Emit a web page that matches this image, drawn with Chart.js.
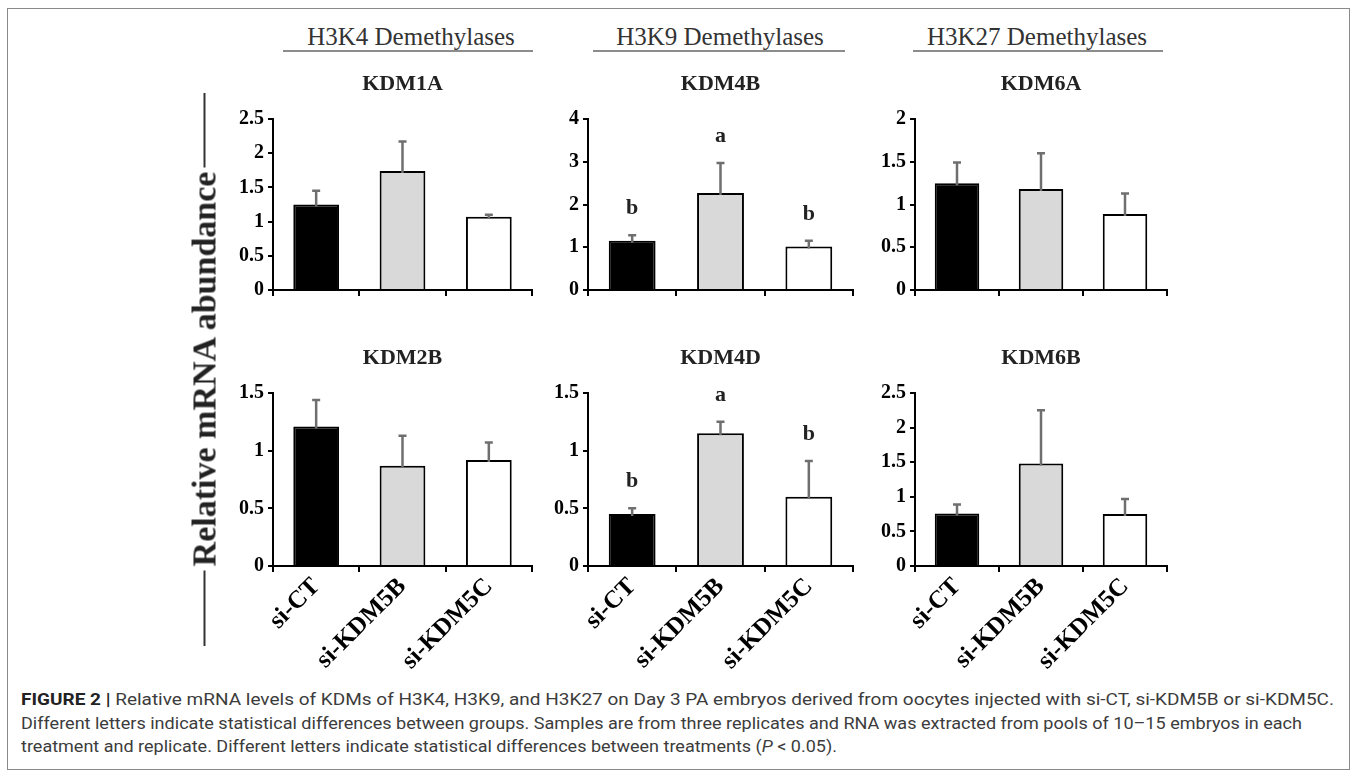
<!DOCTYPE html>
<html><head><meta charset="utf-8">
<script src="https://cdn.jsdelivr.net/npm/chart.js@4.4.1/dist/chart.umd.min.js"></script>
<style>
html,body{margin:0;padding:0;background:#fff;width:1357px;height:777px;overflow:hidden;position:relative;}
#frame{position:absolute;left:7px;top:8px;width:1343px;height:762px;border:1px solid #8a8a8a;box-sizing:border-box;}
.hdr{position:absolute;font-family:"Liberation Serif","Times New Roman",serif;font-size:25px;color:#333;text-align:center;line-height:25px;white-space:nowrap;}
.uline{position:absolute;height:2px;background:#8c8c8c;}
.panel{position:absolute;}
#ytitle{position:absolute;display:flex;align-items:center;width:553px;height:40px;left:-72px;top:348.5px;transform:rotate(-90deg);}
#ytitle .ln{flex:1;height:2px;background:#333;}
#ytitle .tx{padding:0 4px;font-family:"Liberation Serif","Times New Roman",serif;font-weight:bold;font-size:34px;color:#222;white-space:nowrap;line-height:40px;}
.cap{position:absolute;left:21px;font-family:"Liberation Sans Narrow","Roboto","Liberation Sans",sans-serif;font-size:17px;color:#3c3c3c;line-height:23px;white-space:nowrap;transform-origin:0 50%;}
.cap b{color:#222;}
</style></head>
<body>
<div id="frame"></div>
<div id="root"></div>
<div id="ytitle"><span class="ln"></span><span class="tx">Relative mRNA abundance</span><span class="ln"></span></div>
<div class="cap" id="cap1" style="top:688px"><b>FIGURE 2 |</b> Relative mRNA levels of KDMs of H3K4, H3K9, and H3K27 on Day 3 PA embryos derived from oocytes injected with si-CT, si-KDM5B or si-KDM5C.</div>
<div class="cap" id="cap2" style="top:712px">Different letters indicate statistical differences between groups. Samples are from three replicates and RNA was extracted from pools of 10–15 embryos in each</div>
<div class="cap" id="cap3" style="top:735px">treatment and replicate. Different letters indicate statistical differences between treatments (<i>P</i> &lt; 0.05).</div>
<script>
// ---- data ----
const categories = ['si-CT', 'si-KDM5B', 'si-KDM5C'];
const headers = ['H3K4 Demethylases', 'H3K9 Demethylases', 'H3K27 Demethylases'];
const panelTitles = ['KDM1A', 'KDM4B', 'KDM6A', 'KDM2B', 'KDM4D', 'KDM6B'];
const kdm1aMean = [1.25, 1.74, 1.07];
const kdm1aErr  = [0.20, 0.43, 0.03];
const kdm4bMean = [1.15, 2.27, 1.02];
const kdm4bErr  = [0.13, 0.70, 0.13];
const kdm6aMean = [1.25, 1.18, 0.89];
const kdm6aErr  = [0.24, 0.42, 0.24];
const kdm2bMean = [1.21, 0.87, 0.92];
const kdm2bErr  = [0.23, 0.26, 0.15];
const kdm4dMean = [0.45, 1.15, 0.60];
const kdm4dErr  = [0.05, 0.10, 0.31];
const kdm6bMean = [0.76, 1.48, 0.75];
const kdm6bErr  = [0.13, 0.77, 0.22];
const kdm4bLetters = ['b', 'a', 'b'];
const kdm4dLetters = ['b', 'a', 'b'];
const yMaxes = [2.5, 4, 2, 1.5, 1.5, 2.5];
const ySteps = [0.5, 1, 0.5, 0.5, 0.5, 0.5];

// ---- layout (styling, not data) ----
const barColors = ['#000000', '#d9d9d9', '#ffffff'];
const cols = [{L: 273, R: 532}, {L: 588, R: 853}, {L: 915, R: 1167}];
const rows = [{T: 119, B: 294}, {T: 393, B: 566}];
const headerPos = [{cx: 411, x1: 283, x2: 533}, {cx: 720, x1: 593, x2: 845}, {cx: 1037, x1: 913, x2: 1163}];
const captionWidths = [1313, 1281, 816];
const SERIF = '"Liberation Serif","Times New Roman",serif';

const root = document.getElementById('root');
headers.forEach((h, i) => {
  const d = document.createElement('div');
  d.className = 'hdr'; d.textContent = h;
  d.style.left = (headerPos[i].cx - 150) + 'px'; d.style.width = '300px'; d.style.top = '24px';
  root.appendChild(d);
  const u = document.createElement('div');
  u.className = 'uline';
  u.style.left = headerPos[i].x1 + 'px'; u.style.width = (headerPos[i].x2 - headerPos[i].x1) + 'px'; u.style.top = '50px';
  root.appendChild(u);
});

const annotPlugin = {
  id: 'annot',
  afterDatasetsDraw(chart, args, opts) {
    const ctx = chart.ctx, meta = chart.getDatasetMeta(0), ys = chart.scales.y, ca = chart.chartArea;
    ctx.save();
    meta.data.forEach((bar, i) => {
      const top = ys.getPixelForValue(opts.mean[i] + opts.err[i]);
      ctx.strokeStyle = '#6f6f6f'; ctx.lineWidth = 2.5; ctx.lineCap = 'butt';
      ctx.beginPath();
      ctx.moveTo(bar.x, bar.y + 2); ctx.lineTo(bar.x, top);
      ctx.moveTo(bar.x - 4, top); ctx.lineTo(bar.x + 4, top);
      ctx.stroke();
      if (opts.letters) {
        ctx.fillStyle = '#222'; ctx.font = 'bold 22px ' + SERIF;
        ctx.textAlign = 'center'; ctx.textBaseline = 'middle';
        ctx.fillText(opts.letters[i], bar.x, top - 27);
      }
    });
    ctx.fillStyle = '#222'; ctx.font = 'bold 22px ' + SERIF;
    ctx.textAlign = 'center'; ctx.textBaseline = 'middle';
    ctx.fillText(opts.title, (ca.left + ca.right) / 2, ca.top - 35);
    ctx.restore();
  }
};

const means = [kdm1aMean, kdm4bMean, kdm6aMean, kdm2bMean, kdm4dMean, kdm6bMean];
const errs = [kdm1aErr, kdm4bErr, kdm6aErr, kdm2bErr, kdm4dErr, kdm6bErr];
const letters = [null, kdm4bLetters, null, null, kdm4dLetters, null];

for (let p = 0; p < 6; p++) {
  const r = Math.floor(p / 3), c = p % 3;
  const {L, R} = cols[c], {T, B} = rows[r];
  const yW = 70, padR = 15, padT = 60;
  const extra = r === 1 ? 105 : 12;
  const W = (R - L) + yW + padR, H = padT + (B - T) + extra;
  const div = document.createElement('div');
  div.className = 'panel';
  div.style.left = (L - yW) + 'px'; div.style.top = (T - padT) + 'px';
  div.style.width = W + 'px'; div.style.height = H + 'px';
  const cv = document.createElement('canvas');
  cv.width = W; cv.height = H; cv.style.width = W + 'px'; cv.style.height = H + 'px';
  div.appendChild(cv); root.appendChild(div);
  new Chart(cv, {
    type: 'bar',
    data: {
      labels: categories,
      datasets: [{
        data: means[p],
        backgroundColor: barColors,
        borderColor: '#000',
        borderWidth: 2,
        borderSkipped: 'start',
        categoryPercentage: 1,
        barPercentage: 0.53
      }]
    },
    options: {
      responsive: false, animation: false, devicePixelRatio: 1,
      layout: {padding: {left: 0, right: padR, top: padT, bottom: 0}},
      plugins: {
        legend: {display: false}, tooltip: {enabled: false}, title: {display: false},
        annot: {mean: means[p], err: errs[p], letters: letters[p], title: panelTitles[p]}
      },
      scales: {
        x: {
          afterFit: s => { s.height = extra; },
          border: {display: true, color: '#000', width: 2},
          grid: {display: true, drawOnChartArea: false, drawTicks: true, tickLength: 6, color: '#000', lineWidth: 2, offset: true},
          ticks: {
            display: r === 1, autoSkip: false, minRotation: 45, maxRotation: 45, padding: 0,
            color: '#000', font: {family: SERIF, weight: 'bold', size: 25}
          }
        },
        y: {
          min: 0, max: yMaxes[p],
          afterFit: s => { s.width = yW; },
          border: {display: true, color: '#000', width: 2},
          grid: {display: true, drawOnChartArea: false, drawTicks: true, tickLength: 5, color: '#000', lineWidth: 2},
          ticks: {
            stepSize: ySteps[p], padding: 4, color: '#000',
            font: {family: SERIF, weight: 'bold', size: 20},
            callback: v => String(Math.round(v * 100) / 100)
          }
        }
      }
    },
    plugins: [annotPlugin]
  });
}

// fit caption line widths
['cap1', 'cap2', 'cap3'].forEach((id, i) => {
  const el = document.getElementById(id);
  const w = el.getBoundingClientRect().width;
  el.style.transform = 'scaleX(' + (captionWidths[i] / w) + ')';
});
</script>
</body></html>
